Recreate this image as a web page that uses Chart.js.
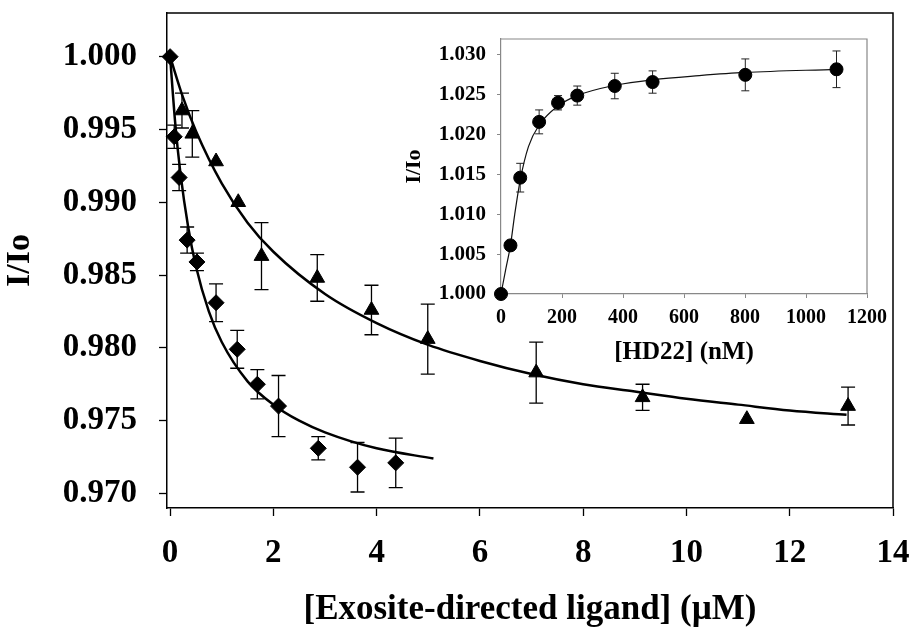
<!DOCTYPE html>
<html>
<head>
<meta charset="utf-8">
<script src="https://cdn.jsdelivr.net/npm/chart.js@4.4.1/dist/chart.umd.min.js"></script>
<style>
  html, body { margin: 0; padding: 0; background: #fff; }
  #wrap { position: relative; width: 912px; height: 627px; }
  #main { position: absolute; left: 0; top: 0; }
  #inset { position: absolute; left: 395px; top: 25px; }
</style>
</head>
<body>
<div id="wrap">
  <canvas id="main" width="912" height="627"></canvas>
  <canvas id="inset" width="510" height="340"></canvas>
</div>
<script>
// main plot: diamonds
const diamondX   = [0, 0.08, 0.175, 0.33, 0.52, 0.89, 1.30, 1.69, 2.10, 2.87, 3.63, 4.37];
const diamondY   = [1.000, 0.9945, 0.9917, 0.9874, 0.9859, 0.9831, 0.9799, 0.9775, 0.9760, 0.9731, 0.9718, 0.9721];
const diamondErr = [0, 0.0008, 0.0009, 0.0009, 0.0006, 0.0013, 0.0013, 0.0010, 0.0021, 0.0008, 0.0017, 0.0017];

// main plot: triangles (the x = 0 point sits under the diamond)
const triangleX   = [0.23, 0.43, 0.89, 1.32, 1.77, 2.85, 3.90, 4.99, 7.09, 9.15, 11.17, 13.13];
const triangleY   = [0.9963, 0.9947, 0.9928, 0.9900, 0.9863, 0.9848, 0.9826, 0.9806, 0.9783, 0.9766, 0.9751, 0.9760];
const triangleErr = [0.0012, 0.0016, 0, 0, 0.0023, 0.0016, 0.0017, 0.0024, 0.0021, 0.0009, 0, 0.0013];

// fitted curves
const diamondFitX = [0, 0.1, 0.2, 0.35, 0.5, 0.75, 1.0, 1.5, 2.0, 2.5, 3.0, 4.0, 5.1];
const diamondFitY = [1.000, 0.9954, 0.9920, 0.9883, 0.9856, 0.9825, 0.9804, 0.9777, 0.9761, 0.9750, 0.9742, 0.9731, 0.9724];
const triangleFitX = [0, 0.25, 0.5, 1, 1.5, 2, 3, 4, 5, 6, 7, 8, 9, 10, 11, 12, 13.1];
const triangleFitY = [1.000, 0.9972, 0.9949, 0.9913, 0.9886, 0.9866, 0.9837, 0.9817, 0.9802, 0.9791, 0.9782, 0.9775, 0.9770, 0.9765, 0.9761, 0.9757, 0.9754];

const mainXTicks = [0, 2, 4, 6, 8, 10, 12, 14];
const mainYTicks = [0.970, 0.975, 0.980, 0.985, 0.990, 0.995, 1.000];

// inset: HD22
const hdX   = [0, 31, 63, 125, 187, 250, 373, 497, 801, 1100];
const hdY   = [1.000, 1.0061, 1.0146, 1.0216, 1.0240, 1.0249, 1.0261, 1.0266, 1.0275, 1.0282];
const hdErr = [0, 0, 0.0018, 0.0015, 0.0009, 0.0012, 0.0016, 0.0014, 0.0020, 0.0023];
const hdFitX = [0, 15, 31, 45, 63, 90, 125, 187, 250, 375, 500, 650, 800, 1100];
const hdFitY = [1.000, 1.0030, 1.0061, 1.0100, 1.0143, 1.0185, 1.0212, 1.0236, 1.0249, 1.0262, 1.0269, 1.0274, 1.0278, 1.0282];

const insetXTicks = [0, 200, 400, 600, 800, 1000, 1200];
const insetYTicks = [1.000, 1.005, 1.010, 1.015, 1.020, 1.025, 1.030];

const serif = '"Liberation Serif", "Times New Roman", serif';
const pts = (xs, ys) => xs.map((x, i) => ({ x: x, y: ys[i] }));

// keep the plot area exactly where the layout padding says
const noPad = s => {
  s.paddingTop = 0; s.paddingBottom = 0;
  s.paddingLeft = 0; s.paddingRight = 0;
};

const errorBars = {
  id: 'errorBars',
  beforeDatasetsDraw(chart, args, opts) {
    const ctx = chart.ctx;
    const yScale = chart.scales.y;
    chart.data.datasets.forEach((ds, i) => {
      if (!ds.errors) return;
      const meta = chart.getDatasetMeta(i);
      ctx.save();
      ctx.strokeStyle = opts.color;
      ctx.lineWidth = opts.width;
      meta.data.forEach((pt, j) => {
        const e = ds.errors[j];
        if (!e) return;
        const v = ds.data[j].y;
        const top = yScale.getPixelForValue(v + e);
        const bot = yScale.getPixelForValue(v - e);
        ctx.beginPath();
        ctx.moveTo(pt.x, top); ctx.lineTo(pt.x, bot);
        ctx.moveTo(pt.x - opts.cap, top); ctx.lineTo(pt.x + opts.cap, top);
        ctx.moveTo(pt.x - opts.cap, bot); ctx.lineTo(pt.x + opts.cap, bot);
        ctx.stroke();
      });
      ctx.restore();
    });
  }
};

const frame = {
  id: 'frame',
  afterDraw(chart, args, opts) {
    const a = chart.chartArea;
    const ctx = chart.ctx;
    ctx.save();
    ctx.strokeStyle = opts.color;
    ctx.lineWidth = opts.width;
    ctx.beginPath();
    ctx.moveTo(a.left, a.top);
    ctx.lineTo(a.right, a.top);
    ctx.lineTo(a.right, a.bottom);
    ctx.stroke();
    ctx.restore();
  }
};

new Chart(document.getElementById('main'), {
  type: 'scatter',
  data: {
    datasets: [
      {
        data: pts(diamondX, diamondY), errors: diamondErr,
        pointStyle: 'rectRot', pointRadius: 8, pointBackgroundColor: '#000', pointBorderColor: '#000',
        showLine: false, clip: false
      },
      {
        data: pts(triangleX, triangleY), errors: triangleErr,
        pointStyle: 'triangle', pointRadius: 8.5, pointBackgroundColor: '#000', pointBorderColor: '#000',
        showLine: false, clip: false
      },
      {
        data: pts(diamondFitX, diamondFitY), showLine: true, pointRadius: 0,
        borderColor: '#000', borderWidth: 2.5, cubicInterpolationMode: 'monotone'
      },
      {
        data: pts(triangleFitX, triangleFitY), showLine: true, pointRadius: 0,
        borderColor: '#000', borderWidth: 2.5, cubicInterpolationMode: 'monotone'
      }
    ]
  },
  options: {
    responsive: false,
    animation: false,
    layout: { padding: { top: 13, right: 19, left: 0, bottom: 0 } },
    plugins: {
      legend: { display: false },
      tooltip: { enabled: false },
      errorBars: { color: '#000', width: 1.3, cap: 7 },
      frame: { color: '#000', width: 1.5 }
    },
    scales: {
      x: {
        type: 'linear', min: -0.06, max: 14,
        afterFit: s => { s.height = 119; noPad(s); },
        afterBuildTicks: s => { s.ticks = mainXTicks.map(v => ({ value: v })); },
        border: { color: '#000', width: 1.5 },
        grid: { drawOnChartArea: false, tickLength: 8, tickColor: '#000', tickWidth: 1.3 },
        ticks: {
          color: '#000', padding: 18, maxRotation: 0, font: { family: serif, size: 33, weight: 'bold' },
          callback: v => String(v)
        },
        title: {
          display: true, text: '[Exosite-directed ligand] (\u00b5M)', color: '#000',
          padding: 0, font: { family: serif, size: 35, weight: 'bold', lineHeight: 1 }
        }
      },
      y: {
        type: 'linear', min: 0.969, max: 1.003,
        afterFit: s => { s.width = 167; noPad(s); },
        afterBuildTicks: s => { s.ticks = mainYTicks.map(v => ({ value: v })); },
        border: { color: '#000', width: 1.5 },
        grid: { drawOnChartArea: false, tickLength: 8, tickColor: '#000', tickWidth: 1.3 },
        ticks: {
          color: '#000', padding: 22, font: { family: serif, size: 33, weight: 'bold' },
          callback: v => v.toFixed(3)
        },
        title: {
          display: true, text: 'I/Io', color: '#000',
          padding: 0, font: { family: serif, size: 34, weight: 'bold', lineHeight: 1.2 }
        }
      }
    }
  },
  plugins: [errorBars, frame]
});

new Chart(document.getElementById('inset'), {
  type: 'scatter',
  data: {
    datasets: [
      {
        data: pts(hdX, hdY), errors: hdErr,
        pointStyle: 'circle', pointRadius: 6.5, pointBackgroundColor: '#000', pointBorderColor: '#000',
        showLine: false, clip: false
      },
      {
        data: pts(hdFitX, hdFitY), showLine: true, pointRadius: 0,
        borderColor: '#111', borderWidth: 1.2, cubicInterpolationMode: 'monotone'
      }
    ]
  },
  options: {
    responsive: false,
    animation: false,
    layout: { padding: { top: 14, right: 38, left: 0, bottom: 0 } },
    plugins: {
      legend: { display: false },
      tooltip: { enabled: false },
      errorBars: { color: '#222', width: 1, cap: 4 },
      frame: { color: '#888', width: 1.2 }
    },
    scales: {
      x: {
        type: 'linear', min: 0, max: 1200,
        afterFit: s => { s.height = 71; noPad(s); },
        afterBuildTicks: s => { s.ticks = insetXTicks.map(v => ({ value: v })); },
        border: { color: '#888', width: 1.2 },
        grid: { drawOnChartArea: false, tickLength: 4, tickColor: '#888' },
        ticks: {
          color: '#000', padding: 8, maxRotation: 0, font: { family: serif, size: 20, weight: 'bold' },
          callback: v => String(v)
        },
        title: {
          display: true, text: '[HD22] (nM)', color: '#000',
          padding: 0, font: { family: serif, size: 25, weight: 'bold', lineHeight: 1 }
        }
      },
      y: {
        type: 'linear', min: 1.000, max: 1.032,
        afterFit: s => { s.width = 106; noPad(s); },
        afterBuildTicks: s => { s.ticks = insetYTicks.map(v => ({ value: v })); },
        border: { color: '#888', width: 1.2 },
        grid: { drawOnChartArea: false, tickLength: 4, tickColor: '#888' },
        ticks: {
          color: '#000', padding: 11, font: { family: serif, size: 21, weight: 'bold' },
          callback: v => v.toFixed(3)
        },
        title: {
          display: true, text: 'I/Io', color: '#000',
          padding: { top: 8, bottom: 0 }, font: { family: serif, size: 22, weight: 'bold', lineHeight: 1 }
        }
      }
    }
  },
  plugins: [errorBars, frame]
});
</script>
</body>
</html>
